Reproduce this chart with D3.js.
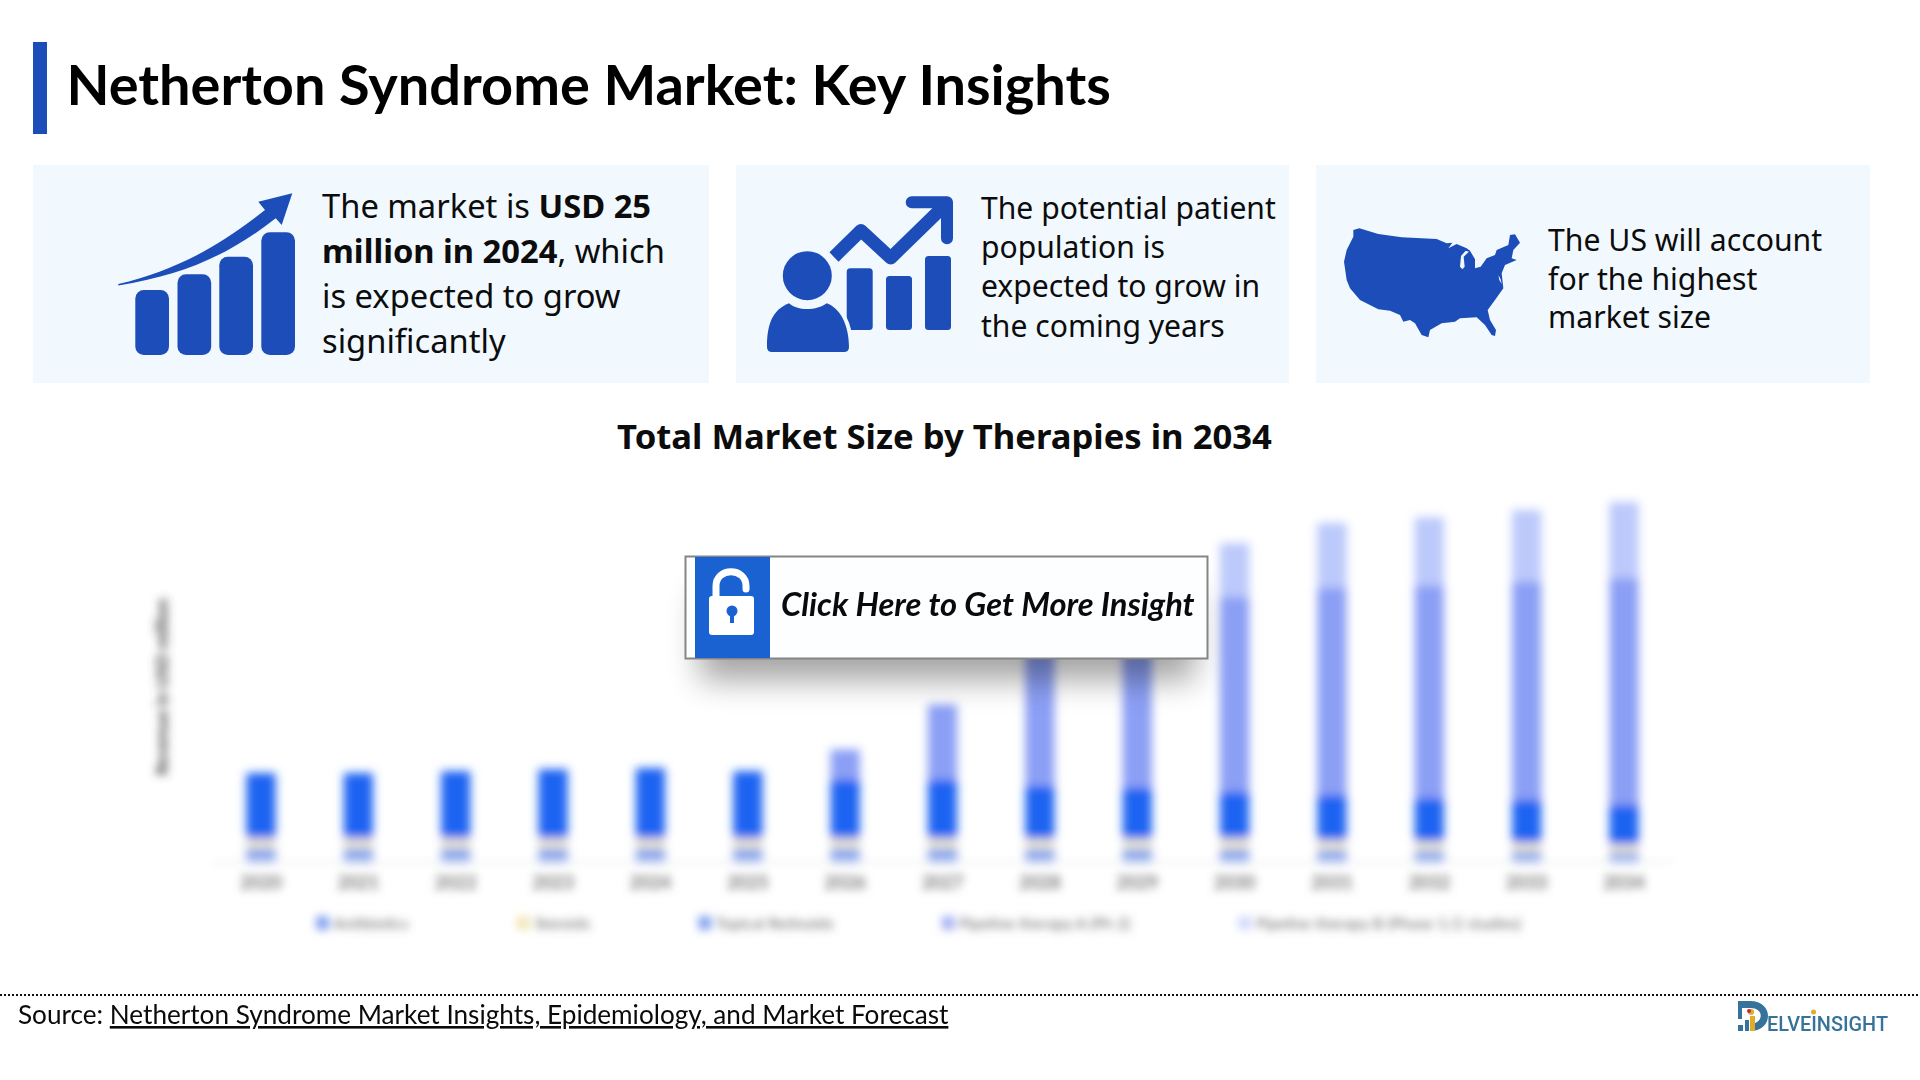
<!DOCTYPE html>
<html>
<head>
<meta charset="utf-8">
<title>Netherton Syndrome Market: Key Insights</title>
<script src="https://cdn.jsdelivr.net/npm/d3@7"></script>
<style>
  html, body { margin: 0; padding: 0; background: #fff; overflow: hidden; }
</style>
</head>
<body>
<script>
const WIDTH = 1920
const HEIGHT = 1080
const BLUE = '#1c4db9'
const PANEL = '#f1f9ff'

// values, USD million
const years = ['2020', '2021', '2022', '2023', '2024', '2025', '2026', '2027', '2028', '2029', '2030', '2031', '2032', '2033', '2034']
const seriesA = [3.4, 3.4, 3.4, 3.4, 3.4, 3.4, 3.4, 3.4, 3.3, 3.3, 3.2, 3.0, 2.8, 2.6, 2.3]
const seriesB = [2.9, 2.9, 2.9, 2.9, 2.9, 2.9, 2.9, 2.9, 2.9, 2.9, 3.1, 2.8, 2.7, 2.6, 2.4]
const seriesC = [17.1, 17.1, 17.6, 18.1, 18.4, 17.6, 15.4, 15.4, 13.9, 13.4, 12.1, 11.8, 11.3, 11.1, 10.3]
const seriesD = [0, 0, 0, 0, 0, 0, 7.9, 19.7, 43.4, 46.6, 51.3, 54.5, 56, 57.4, 59.7]
const seriesE = [0, 0, 0, 0, 0, 0, 0, 0, 0, 0, 14.2, 17.1, 17.9, 18.9, 20]

// legend text cannot be read in the reference, these names are stand-ins of about the right length
const seriesNames = ['Antibiotics', 'Steroids', 'Topical Retinoids', 'Pipeline therapy A (Ph 2)', 'Pipeline therapy B (Phase 1/2 studies)']
const seriesColors = ['#87a5ee', '#e6e2d2', '#1f63f2', '#8b9ff5', '#bcc9fb']
const seriesValues = [seriesA, seriesB, seriesC, seriesD, seriesE]
const legendColors = ['#87a5ee', '#f3e6b8', '#87a5ee', '#a9b4f3', '#d3dafc']

const panelLines1 = [
  [['The market is ', 400], ['USD 25', 700]],
  [['million in 2024', 700], [', which', 400]],
  [['is expected to grow', 400]],
  [['significantly', 400]]
]
const panelLines2 = ['The potential patient', 'population is', 'expected to grow in', 'the coming years']
const panelLines3 = ['The US will account', 'for the highest', 'market size']

const usOutline = [
  [55, 30], [73, 25], [130, 42], [200, 52], [305, 57], [335, 70], [352, 68], [340, 85], [365, 72], [395, 85],
  [405, 92], [420, 118], [420, 145], [437, 140], [455, 115], [480, 105], [485, 90], [520, 75], [525, 45], [540, 43],
  [555, 68], [535, 90], [530, 115], [545, 120], [510, 135], [500, 160], [505, 205], [480, 240], [458, 270], [465, 300],
  [483, 330], [480, 348], [470, 345], [450, 315], [425, 292], [375, 295], [360, 305], [320, 310], [285, 330], [280, 352],
  [260, 345], [240, 310], [225, 300], [205, 305], [195, 285], [165, 272], [130, 268], [75, 240], [45, 205], [35, 180],
  [27, 125], [35, 90], [55, 50]
]
const usLake = [[392, 92], [378, 108], [375, 140], [382, 148], [389, 140], [386, 110], [402, 95]]
const usBay = [[490, 165], [497, 178], [500, 192], [493, 180]]

const svg = d3.select('body').append('svg')
  .attr('width', WIDTH)
  .attr('height', HEIGHT)
  .attr('viewBox', `0 0 ${WIDTH} ${HEIGHT}`)
  .style('display', 'block')

const defs = svg.append('defs')
const addBlur = (id, sd) => defs.append('filter')
  .attr('id', id)
  .attr('filterUnits', 'userSpaceOnUse')
  .attr('x', 0).attr('y', 0).attr('width', WIDTH).attr('height', HEIGHT)
  .append('feGaussianBlur')
  .attr('stdDeviation', sd)
addBlur('blurBars', 5)
addBlur('blurText', 4.5)
addBlur('blurShadow', 16)

// ---- header ----
svg.append('rect').attr('x', 33).attr('y', 42).attr('width', 14).attr('height', 92).attr('fill', BLUE)
svg.append('text')
  .attr('x', 66.5).attr('y', 105)
  .attr('font-family', 'Lato').attr('font-weight', 700).attr('font-size', 55.9)
  .attr('fill', '#000')
  .text('Netherton Syndrome Market: Key Insights')

// ---- panels ----
const panels = svg.append('g')
panels.selectAll('rect')
  .data([[33, 676], [736, 553], [1316, 554]])
  .enter().append('rect')
  .attr('x', d => d[0]).attr('y', 165)
  .attr('width', d => d[1]).attr('height', 218)
  .attr('fill', PANEL)

const panelText = svg.append('g')
  .attr('font-family', "'Noto Sans'")
  .attr('fill', '#0c0c0c')

const t1 = panelText.append('g').attr('font-size', 32.7)
panelLines1.forEach((line, i) => {
  const row = t1.append('text').attr('x', 322).attr('y', 218 + i * 45)
  line.forEach(part => row.append('tspan').attr('font-weight', part[1]).text(part[0]))
})

panelText.append('g').attr('font-size', 30.1).selectAll('text')
  .data(panelLines2).enter().append('text')
  .attr('x', 981).attr('y', (d, i) => 219 + i * 39.2)
  .text(d => d)

panelText.append('g').attr('font-size', 30.2).selectAll('text')
  .data(panelLines3).enter().append('text')
  .attr('x', 1548).attr('y', (d, i) => 251 + i * 38.7)
  .text(d => d)

// icon 1, rising bars and arrow
const icon1 = svg.append('g').attr('fill', BLUE)
icon1.selectAll('rect')
  .data([[135.3, 290], [177.5, 274.3], [219.3, 256.7], [261.3, 232.3]])
  .enter().append('rect')
  .attr('x', d => d[0]).attr('y', d => d[1])
  .attr('width', 33.7).attr('height', d => 355 - d[1])
  .attr('rx', 8.5)
icon1.append('path')
  .attr('d', 'M118.3 284 C170 272 215 250 265 210 L258.3 201.7 L292.3 193.3 L281.7 225 L275.7 218.3 C225 258 180 275 118.3 285.5 Z')

// icon 2, person and small chart
const icon2 = svg.append('g').attr('fill', BLUE)
icon2.selectAll('rect')
  .data([[846.7, 268.3], [886, 276], [925, 256]])
  .enter().append('rect')
  .attr('x', d => d[0]).attr('y', d => d[1])
  .attr('width', 26).attr('height', d => 330 - d[1])
  .attr('rx', 3.5)
icon2.append('circle').attr('cx', 807.3).attr('cy', 275.7).attr('r', 24.5)
icon2.append('path')
  .attr('d', 'M767 347 C767 325 772 310 789 303.3 C797 311 817 311 826.7 303.3 C840 308 849 325 849 347 Q849 352 844 352 L772 352 Q767 352 767 347 Z')
  .attr('stroke', PANEL).attr('stroke-width', 8).attr('paint-order', 'stroke')
icon2.append('path')
  .attr('d', 'M834 257 L861 230.5 L890.7 258 L943 207')
  .attr('fill', 'none').attr('stroke', BLUE).attr('stroke-width', 13).attr('stroke-linejoin', 'round')
icon2.append('path')
  .attr('d', 'M911.7 202.3 L947 202.3 L947 238.3')
  .attr('fill', 'none').attr('stroke', BLUE).attr('stroke-width', 12).attr('stroke-linecap', 'round').attr('stroke-linejoin', 'round')

// icon 3, US map
const usPoint = d3.line().x(d => 1335 + d[0] / 3).y(d => 220 + d[1] / 3)
svg.append('path').attr('d', usPoint(usOutline) + 'Z').attr('fill', BLUE)
svg.selectAll('path.us-cut')
  .data([usLake, usBay])
  .enter().append('path')
  .attr('class', 'us-cut')
  .attr('d', d => usPoint(d) + 'Z')
  .attr('fill', PANEL)

// ---- chart ----
svg.append('text')
  .attr('x', 944.5).attr('y', 449)
  .attr('text-anchor', 'middle')
  .attr('font-family', "'Noto Sans'").attr('font-weight', 700).attr('font-size', 34.65)
  .attr('fill', '#0c0c0c')
  .text('Total Market Size by Therapies in 2034')

const x = d3.scaleBand()
  .domain(years)
  .range([212.3, 1672.7])
  .paddingInner(0.7)
  .paddingOuter(0.35)

const y = d3.scaleLinear()
  .domain([0, 100])
  .range([862, 482])

const stackRows = years.map((year, i) => {
  const row = { year }
  seriesNames.forEach((name, s) => { row[name] = seriesValues[s][i] })
  return row
})
const stacked = d3.stack().keys(seriesNames)(stackRows)

const chart = svg.append('g')

chart.append('g')
  .attr('filter', 'url(#blurBars)')
  .selectAll('g')
  .data(stacked)
  .enter().append('g')
  .attr('fill', (d, i) => seriesColors[i])
  .selectAll('rect')
  .data(d => d)
  .enter().append('rect')
  .attr('x', d => x(d.data.year))
  .attr('y', d => y(d[1]))
  .attr('width', x.bandwidth())
  .attr('height', d => y(d[0]) - y(d[1]))

const blurred = chart.append('g').attr('filter', 'url(#blurText)')

const xAxis = blurred.append('g')
  .attr('transform', `translate(0, ${y(0)})`)
  .call(d3.axisBottom(x).tickSize(0).tickPadding(14))
xAxis.select('.domain').attr('stroke', '#ececec').attr('stroke-width', 2)
xAxis.selectAll('text')
  .attr('font-family', 'Lato').attr('font-weight', 700).attr('font-size', 18).attr('fill', '#777')

blurred.append('text')
  .attr('transform', 'translate(168, 687) rotate(-90)')
  .attr('text-anchor', 'middle')
  .attr('font-family', 'Lato').attr('font-weight', 700).attr('font-size', 17).attr('fill', '#444')
  .text('Revenue in USD million')

// legend flows left to right from the measured text widths
const legend = blurred.append('g').attr('font-family', 'Lato').attr('font-size', 16)
let legendX = 316
seriesNames.forEach((name, i) => {
  legend.append('rect')
    .attr('x', legendX).attr('y', 916)
    .attr('width', 13).attr('height', 14)
    .attr('fill', legendColors[i])
  const label = legend.append('text')
    .attr('x', legendX + 17).attr('y', 929)
    .attr('fill', '#666')
    .text(name)
  legendX += 17 + label.node().getComputedTextLength() + 108
})

// ---- button over the chart ----
const button = svg.append('g')
button.append('rect')
  .attr('x', 700).attr('y', 590).attr('width', 495).attr('height', 90)
  .attr('fill', '#000').attr('opacity', 0.36)
  .attr('filter', 'url(#blurShadow)')
button.append('rect')
  .attr('x', 685.5).attr('y', 556.5).attr('width', 522).attr('height', 102)
  .attr('fill', '#fdfeff').attr('stroke', '#858585').attr('stroke-width', 2)
button.append('rect')
  .attr('x', 695).attr('y', 557).attr('width', 75).attr('height', 101)
  .attr('fill', '#1a62d1')
button.append('path')
  .attr('d', 'M716 597 L716 586 C716 567 746 567 746 586 L746 589')
  .attr('fill', 'none').attr('stroke', '#fff').attr('stroke-width', 7).attr('stroke-linecap', 'round')
button.append('rect')
  .attr('x', 709).attr('y', 596).attr('width', 45).attr('height', 39).attr('rx', 3)
  .attr('fill', '#fff')
button.append('circle').attr('cx', 732).attr('cy', 611).attr('r', 5.5).attr('fill', '#1a62d1')
button.append('rect').attr('x', 730).attr('y', 612).attr('width', 4).attr('height', 11).attr('fill', '#1a62d1')
button.append('text')
  .attr('x', 781).attr('y', 615.5)
  .attr('font-family', 'Lato').attr('font-style', 'italic').attr('font-weight', 700).attr('font-size', 32.7)
  .attr('fill', '#0a0a0a')
  .text('Click Here to Get More Insight')

// ---- footer ----
svg.append('line')
  .attr('x1', 0).attr('x2', WIDTH).attr('y1', 995).attr('y2', 995)
  .attr('stroke', '#111').attr('stroke-width', 2).attr('stroke-dasharray', '2 2')

const source = svg.append('text')
  .attr('x', 18).attr('y', 1024)
  .attr('font-family', 'Lato').attr('font-size', 26.15)
  .attr('fill', '#0a0a0a')
source.append('tspan').text('Source: ')
source.append('tspan')
  .attr('text-decoration', 'underline')
  .text('Netherton Syndrome Market Insights, Epidemiology, and Market Forecast')

// logo
const LOGO = '#35739b'
const logo = svg.append('g')
logo.append('path')
  .attr('d', 'M1738 1001 L1750 1001 C1774 1001 1774 1031 1750 1031 L1752 1024 C1764 1022 1764 1008 1750 1008 L1738 1008 Z')
  .attr('fill', LOGO)
logo.append('rect').attr('x', 1738).attr('y', 1008).attr('width', 4).attr('height', 11).attr('fill', LOGO)
logo.append('rect').attr('x', 1738).attr('y', 1025).attr('width', 5).attr('height', 6).attr('fill', LOGO)
logo.append('rect').attr('x', 1745).attr('y', 1020).attr('width', 4).attr('height', 11).attr('fill', LOGO)
logo.append('rect').attr('x', 1750).attr('y', 1016).attr('width', 5).attr('height', 15).attr('fill', '#e0ac2e')
logo.append('circle').attr('cx', 1751).attr('cy', 1012).attr('r', 3).attr('fill', '#e0ac2e')
logo.append('circle').attr('cx', 1749).attr('cy', 1011).attr('r', 2).attr('fill', '#cc2240')
logo.append('text')
  .attr('x', 1767).attr('y', 1031)
  .attr('font-family', 'Roboto').attr('font-weight', 500).attr('font-size', 21)
  .attr('textLength', 121).attr('lengthAdjust', 'spacingAndGlyphs')
  .attr('fill', LOGO)
  .text('ELVEINSIGHT')
logo.append('circle').attr('cx', 1813.5).attr('cy', 1012).attr('r', 2.5).attr('fill', '#e0ac2e')
</script>
</body>
</html>
